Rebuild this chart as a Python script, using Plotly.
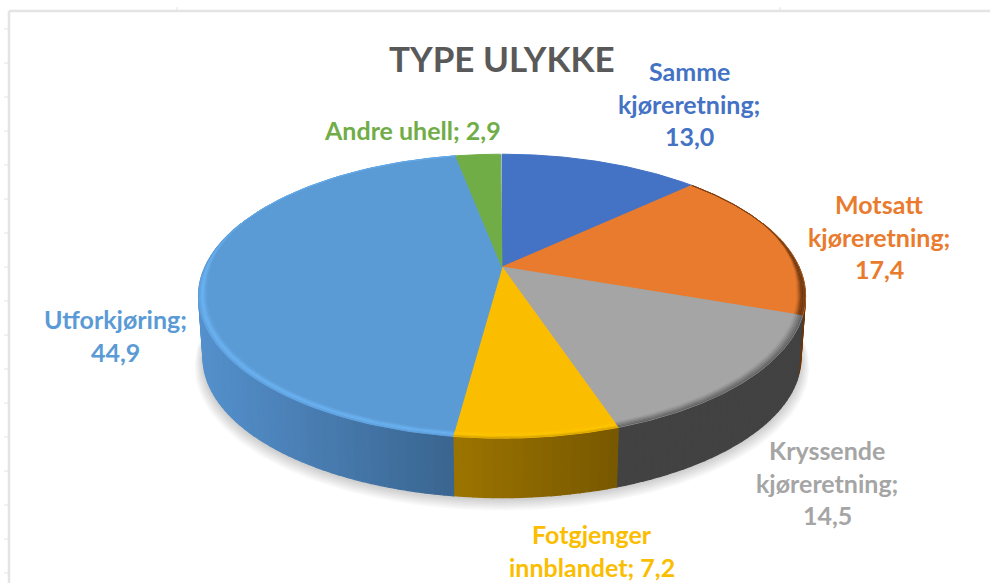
import math
import numpy as np
import plotly.graph_objects as go

# ---- data ----
categories = ["Samme kjøreretning", "Motsatt kjøreretning", "Kryssende kjøreretning",
              "Fotgjenger innblandet", "Utforkjøring", "Andre uhell"]
values = [13.0, 17.4, 14.5, 7.2, 44.9, 2.9]
label_templates = ["Samme|kjøreretning;|{v}", "Motsatt|kjøreretning;|{v}", "Kryssende|kjøreretning;|{v}",
                   "Fotgjenger|innblandet; {v}", "Utforkjøring;|{v}", "Andre uhell; {v}"]
title_text = "TYPE ULYKKE"

# ---- styles ----
face_colors = ["#4472C4", "#E97B2E", "#A5A5A5", "#FBBD00", "#5B9BD5", "#70AD47"]
side_left = ["#2A4A80", "#8A4A18", "#424242", "#9C7400", "#5089C2", "#486E2E"]
side_right = ["#2A4A80", "#6E3608", "#424242", "#785800", "#3A6590", "#486E2E"]
rim_colors = ["#4472C4", "#6A3610", "#7A7A7A", "#FFC800", "#6DB5F5", "#70AD47"]
label_x = [689, 879, 827, 592, 115, 412]
label_y = [71, 204, 450, 534, 319, 130]
line_gap = 32.5

# ---- projection of the tilted disc ----
CX, CY, RX, A, K = 502, 267, 297, 136.0, 0.2056
DROP, BOTTOM_SCALE = 62, 0.985


def project(theta, r=1.0, dy=0.0, scale=1.0):
    u, v = r * np.sin(theta), r * np.cos(theta)
    den = 1 + K * v
    return CX + scale * RX * u / den, CY + dy - scale * A * v / den


def hex_rgb(c):
    return np.array([int(c[i:i + 2], 16) for i in (1, 3, 5)], float)


def mix(c1, c2, t):
    m = hex_rgb(c1) * (1 - t) + hex_rgb(c2) * t
    return "#%02x%02x%02x" % tuple(int(round(x)) for x in m)


def poly(fig, x, y, color, width=0.6):
    fig.add_trace(go.Scatter(x=list(x) + [x[0]], y=list(y) + [y[0]], mode="lines", fill="toself",
                             fillcolor=color, line=dict(color=color, width=width),
                             hoverinfo="skip", showlegend=False))


edges = np.radians(np.concatenate([[0], np.cumsum(values)]) * 3.6)
fig = go.Figure()

# soft shadow
circle = np.linspace(0, 2 * np.pi, 241)
for i in range(8, 0, -1):
    sx, sy = project(circle, 1.0, DROP + 1 + i * 0.9, BOTTOM_SCALE + i * 0.0035)
    fig.add_trace(go.Scatter(x=sx, y=sy, mode="lines", fill="toself", fillcolor="rgba(0,0,0,0.022)",
                             line=dict(width=0), hoverinfo="skip", showlegend=False))

# side wall
for k in range(len(values)):
    lo, hi = max(edges[k], math.radians(70)), min(edges[k + 1], math.radians(290))
    if hi <= lo:
        continue
    n = max(2, int(math.degrees(hi - lo) / 1.5))
    steps = np.linspace(lo, hi, n + 1)
    xa = float(project(np.array([lo]))[0][0])
    xb = float(project(np.array([hi]))[0][0])
    for j in range(n):
        th = np.linspace(steps[j], steps[j + 1], 4)
        x_top, y_top = project(th, 1.0, 0.0)
        x_bot, y_bot = project(th, 1.0, DROP, BOTTOM_SCALE)
        xmid = float(project(np.array([(steps[j] + steps[j + 1]) / 2]))[0][0])
        t = (xmid - min(xa, xb)) / max(abs(xb - xa), 1)
        poly(fig, np.r_[x_top, x_bot[::-1]], np.r_[y_top, y_bot[::-1]],
             mix(side_left[k], side_right[k], t), width=1.2)

# top faces
for k in range(len(values)):
    th = np.linspace(edges[k], edges[k + 1], 120)
    x, y = project(th)
    poly(fig, np.r_[CX, x], np.r_[CY, y], face_colors[k], width=1.0)

# rim bevel on the front part of the disc
ramp = [0.0, 0.2, 0.4, 0.6, 0.8, 1.0]
for k in range(len(values)):
    lo, hi = edges[k], edges[k + 1]
    th = np.linspace(lo, hi, 120)
    w = 0.027 * np.clip((0.35 - np.cos(th)) / 0.5, 0, 1)
    if w.max() <= 0:
        continue
    for a, b in zip(ramp[:-1], ramp[1:]):
        mid = (a + b) / 2
        if mid < 0.6:
            c = mix(face_colors[k], rim_colors[k], mid / 0.6)
        else:
            c = mix(rim_colors[k], side_left[k], (mid - 0.6) / 0.8)
        x1, y1 = project(th, 1 - w * (1 - a))
        x2, y2 = project(th, 1 - w * (1 - b))
        poly(fig, np.r_[x1, x2[::-1]], np.r_[y1, y2[::-1]], c, width=0.3)

# labels
annotations = [dict(x=502, y=58, text="<b>%s</b>" % title_text, showarrow=False,
                    font=dict(family="Lato", size=35, color="#595959"))]
for k, tpl in enumerate(label_templates):
    vtext = f"{values[k]:.1f}".replace(".", ",")
    for i, row in enumerate(tpl.format(v=vtext).split("|")):
        annotations.append(dict(x=label_x[k], y=label_y[k] + i * line_gap, text="<b>%s</b>" % row,
                                showarrow=False,
                                font=dict(family="Lato", size=25, color=face_colors[k])))

# sheet frame and gridline stubs behind the chart
FRAME = "#E4E4E4"
shapes = [dict(type="line", x0=9, x1=9, y0=11, y1=583, line=dict(color=FRAME, width=2.5), layer="below"),
          dict(type="line", x0=9, x1=990, y0=11, y1=11, line=dict(color=FRAME, width=2.5), layer="below")]
for yy in range(29, 583, 34):
    shapes.append(dict(type="line", x0=4, x1=9, y0=yy, y1=yy, line=dict(color=FRAME, width=1), layer="below"))
for xx in (177, 780):
    shapes.append(dict(type="line", x0=xx, x1=xx, y0=7, y1=11, line=dict(color=FRAME, width=1), layer="below"))

fig.update_layout(
    width=990, height=583, margin=dict(l=0, r=0, t=0, b=0),
    paper_bgcolor="white", plot_bgcolor="white", showlegend=False,
    xaxis=dict(range=[0, 990], visible=False, fixedrange=True),
    yaxis=dict(range=[583, 0], visible=False, fixedrange=True),
    annotations=annotations, shapes=shapes,
)
fig.write_html("out.html", config=dict(displayModeBar=False),
               post_script="document.body.style.margin='0';document.body.style.overflow='hidden';")
